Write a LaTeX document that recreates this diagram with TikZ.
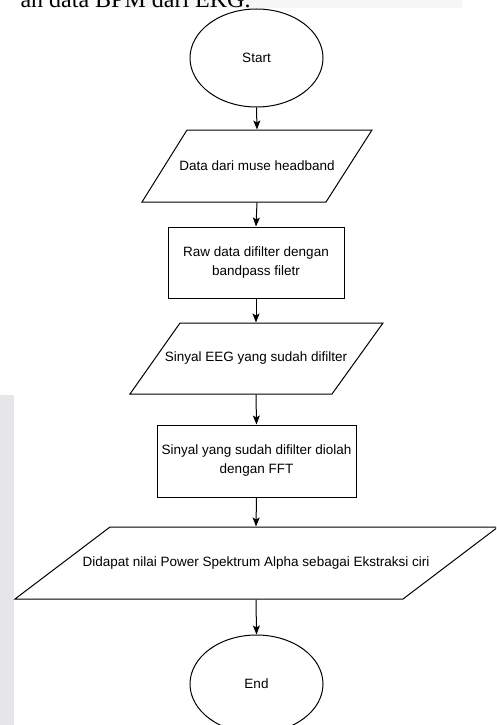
\documentclass[tikz,border=0pt]{standalone}
\usepackage{fontspec}
\setmainfont{Liberation Serif}
\newfontfamily\flowfont{Liberation Sans}
\usetikzlibrary{shapes.geometric,arrows.meta}
\definecolor{bandgray}{HTML}{E6E6E8}
\definecolor{topgray}{HTML}{F6F6F6}
\begin{document}
\begin{tikzpicture}[x=1pt,y=-1pt,
  line width=1pt,
  txt/.style={font=\flowfont\fontsize{13.5}{19}\selectfont, align=center, inner sep=0pt},
  term/.style={draw, ellipse, minimum width=133pt, minimum height=98pt, inner sep=0pt, txt},
  procbox/.style={draw, rectangle, inner sep=0pt, txt},
  iobox/.style={rectangle, inner sep=0pt, txt},
  para/.style={draw, line join=miter},
  flow/.style={-{Stealth[length=9pt,width=7pt,inset=2pt]}}
]
\useasboundingbox (0,0) rectangle (496,725);
\clip (0,0) rectangle (496,725);
\fill[topgray] (97,0) rectangle (462,8);
\fill[bandgray] (0,395) rectangle (14,725);
\node[anchor=base east, inner sep=0pt, font=\fontsize{24}{28}\selectfont] (cap) at (251,7.5) {an data BPM dari EKG.};

% nodes
\node[term] (start) at (256.5,58) {Start};
\node[iobox, minimum width=185pt, minimum height=72pt] (p1) at (257,166) {Data dari muse headband};
\node[procbox, minimum width=176pt, minimum height=71pt] (r1) at (256,262.5) {Raw data difilter dengan\\bandpass filetr};
\node[iobox, minimum width=203pt, minimum height=71pt] (p2) at (256,358.5) {Sinyal EEG yang sudah difilter};
\node[procbox, minimum width=199pt, minimum height=72pt] (r2) at (256.5,461) {Sinyal yang sudah difilter diolah\\dengan FFT};
\node[iobox, minimum width=293pt, minimum height=72pt] (p3) at (256,563) {Didapat nilai Power Spektrum Alpha sebagai Ekstraksi ciri};
\node[term] (end) at (256.5,684) {End};

% parallelograms
\draw[para] (187,130) -- (372,130) -- (326,202) -- (142,202) -- cycle;
\draw[para] (180,323) -- (383,323) -- (332,394) -- (130,394) -- cycle;
\draw[para] (110,527) -- (498,527) -- (403,599) -- (15,599) -- cycle;

% connectors
\draw[flow] (start.south) -- (p1.north);
\draw[flow] (p1.south) -- (r1.north);
\draw[flow] (r1.south) -- (p2.north);
\draw[flow] (p2.south) -- (r2.north);
\draw[flow] (r2.south) -- (p3.north);
\draw[flow] (p3.south) -- (end.north);
\end{tikzpicture}
\end{document}
